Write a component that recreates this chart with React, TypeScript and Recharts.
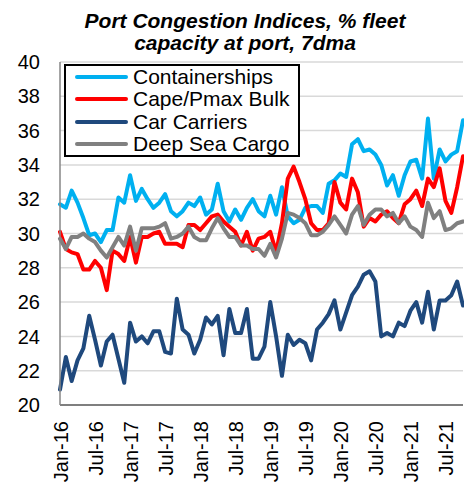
import { LineChart, Line, XAxis, YAxis, CartesianGrid, Legend } from "recharts";

const YEARS = ["16", "17", "18", "19", "20", "21"];
const MONTHS = ["Jan", "Feb", "Mar", "Apr", "May", "Jun", "Jul", "Aug", "Sep", "Oct", "Nov", "Dec"];
const months = YEARS.flatMap((y) => MONTHS.map((m) => `${m}-${y}`)).slice(0, 70);

const containerships = [
  31.7, 31.5, 32.5, 31.8, 30.9, 29.9, 30.0, 29.5, 30.2, 30.2,
  32.1, 31.8, 33.4, 31.9, 32.6, 32.0, 31.5, 31.8, 32.3, 31.3,
  31.0, 31.3, 31.8, 31.6, 32.1, 31.1, 31.4, 32.9, 31.3, 30.7,
  31.4, 30.8, 31.5, 32.0, 31.3, 31.0, 32.2, 31.1, 32.7, 31.0,
  30.6, 30.8, 31.5, 31.6, 31.6, 31.2, 32.9, 33.1, 33.5, 33.3,
  35.2, 35.5, 34.8, 34.9, 34.6, 34.0, 32.8, 33.4, 32.2, 33.4,
  34.2, 34.3, 33.2, 36.7, 33.2, 34.9, 34.2, 34.6, 34.8, 36.6,
];
const capePmax = [
  30.1, 29.1, 28.9, 28.8, 27.9, 27.9, 28.4, 28.0, 26.7, 29.0,
  28.8, 28.4, 29.8, 28.3, 29.8, 29.8, 30.0, 30.1, 29.4, 29.4,
  29.4, 29.2, 30.5, 30.5, 30.2, 30.6, 31.0, 31.1, 30.7, 30.4,
  30.1, 29.3, 30.1, 29.0, 29.7, 29.8, 30.1, 28.9, 30.6, 33.2,
  33.9, 33.0, 32.0, 30.6, 30.2, 30.2, 30.6, 33.0, 31.8, 31.4,
  33.2, 32.4, 30.4, 30.9, 30.7, 31.1, 31.3, 30.9, 30.6, 31.7,
  32.0, 32.5, 31.6, 33.2, 32.7, 33.8, 31.9, 31.2, 32.7, 34.5,
];
const carCarriers = [
  20.9, 22.8, 21.4, 22.6, 23.3, 25.2, 23.8, 22.3, 23.7, 24.1,
  22.7, 21.3, 24.8, 23.7, 24.0, 23.6, 24.3, 24.3, 23.1, 23.0,
  26.2, 24.4, 24.1, 23.0, 23.8, 25.1, 24.7, 25.2, 22.9, 25.6,
  24.2, 24.2, 25.6, 22.7, 22.7, 23.4, 26.0, 24.0, 21.7, 24.1,
  23.5, 23.8, 23.6, 22.6, 24.4, 24.8, 25.3, 26.1, 24.4, 25.4,
  26.4, 26.9, 27.6, 27.8, 27.2, 24.0, 24.2, 24.0, 24.8, 24.6,
  25.5, 26.0, 24.8, 26.6, 24.4, 26.1, 26.1, 26.4, 27.2, 25.8,
];
const deepSeaCargo = [
  29.7, 29.1, 29.8, 29.8, 30.0, 29.7, 29.5, 29.0, 28.6, 29.2,
  29.8, 29.3, 30.4, 29.0, 30.3, 30.3, 30.3, 30.4, 30.6, 29.7,
  29.8, 30.0, 30.4, 29.8, 29.6, 29.6, 30.3, 30.9, 30.3, 29.8,
  29.8, 29.3, 29.3, 29.1, 29.1, 28.7, 29.4, 28.6, 29.7, 31.2,
  31.1, 30.9, 30.6, 29.9, 29.9, 30.1, 30.5, 31.0, 30.5, 30.0,
  31.1, 31.6, 30.5, 31.1, 31.4, 31.4, 31.0, 31.2, 30.6, 31.0,
  30.4, 30.2, 29.8, 31.8, 30.9, 31.3, 30.2, 30.3, 30.6, 30.7,
];
const yTicks = [20, 22, 24, 26, 28, 30, 32, 34, 36, 38, 40];

const series = [
  { key: "containerships", name: "Containerships", color: "#00B0F0" },
  { key: "capePmax", name: "Cape/Pmax Bulk", color: "#FF0000" },
  { key: "carCarriers", name: "Car Carriers", color: "#1F497D" },
  { key: "deepSeaCargo", name: "Deep Sea Cargo", color: "#808080" },
];

const data = months.map((month, i) => ({
  month,
  containerships: containerships[i],
  capePmax: capePmax[i],
  carCarriers: carCarriers[i],
  deepSeaCargo: deepSeaCargo[i],
}));

const FONT = '"Liberation Sans", Arial, sans-serif';

function MonthTick({ x, y, payload }: any) {
  return (
    <g transform={`translate(${x},${y + 1})`}>
      <text
        transform="rotate(-90)"
        textAnchor="end"
        dy={8}
        fontSize={20}
        fontFamily={FONT}
        fill="#000"
      >
        {payload.value}
      </text>
    </g>
  );
}

function LegendBox() {
  return (
    <div
      style={{
        boxSizing: "border-box",
        width: 236,
        height: 93,
        border: "2px solid #000",
        background: "#fff",
        fontFamily: FONT,
        fontSize: 21,
        color: "#000",
      }}
    >
      {series.map((s) => (
        <div key={s.key} style={{ display: "flex", alignItems: "center", height: 22.25 }}>
          <span
            style={{
              display: "inline-block",
              marginLeft: 9,
              width: 53,
              height: 4,
              borderRadius: 2,
              background: s.color,
            }}
          />
          <span style={{ marginLeft: 5, lineHeight: "22px", whiteSpace: "nowrap" }}>{s.name}</span>
        </div>
      ))}
    </div>
  );
}

export default function App() {
  return (
    <div style={{ position: "absolute", left: 0, top: 0, width: 464, height: 483, background: "#fff", overflow: "hidden" }}>
      <div
        style={{
          position: "absolute",
          left: 45,
          top: 10,
          width: 400,
          textAlign: "center",
          fontFamily: FONT,
          fontSize: 21,
          fontWeight: "bold",
          fontStyle: "italic",
          lineHeight: "22px",
          color: "#000",
        }}
      >
        Port Congestion Indices, % fleet
        <br />
        capacity at port, 7dma
      </div>
      <LineChart width={464} height={483} data={data} margin={{ top: 62, right: 1, bottom: 0, left: 0 }}>
        <CartesianGrid vertical={false} stroke="#d9d9d9" strokeWidth={1.5} />
        <XAxis
          dataKey="month"
          interval={5}
          height={78}
          tickSize={0}
          tickMargin={15}
          tick={<MonthTick />}
          axisLine={{ stroke: "#7f7f7f", strokeWidth: 2 }}
        />
        <YAxis
          width={60}
          domain={[20, 40]}
          ticks={yTicks}
          interval={0}
          tickSize={0}
          tickMargin={20}
          tick={{ fontSize: 20, fontFamily: FONT, fill: "#000" }}
          axisLine={{ stroke: "#868686", strokeWidth: 1.5 }}
        />
        <Legend
          layout="vertical"
          align="center"
          verticalAlign="middle"
          content={<LegendBox />}
          wrapperStyle={{ top: 64, left: 64, width: 236, height: 93 }}
        />
        {series.map((s) => (
          <Line
            key={s.key}
            type="linear"
            dataKey={s.key}
            name={s.name}
            stroke={s.color}
            strokeWidth={4}
            strokeLinejoin="round"
            strokeLinecap="round"
            dot={false}
            activeDot={false}
            isAnimationActive={false}
          />
        ))}
      </LineChart>
    </div>
  );
}
